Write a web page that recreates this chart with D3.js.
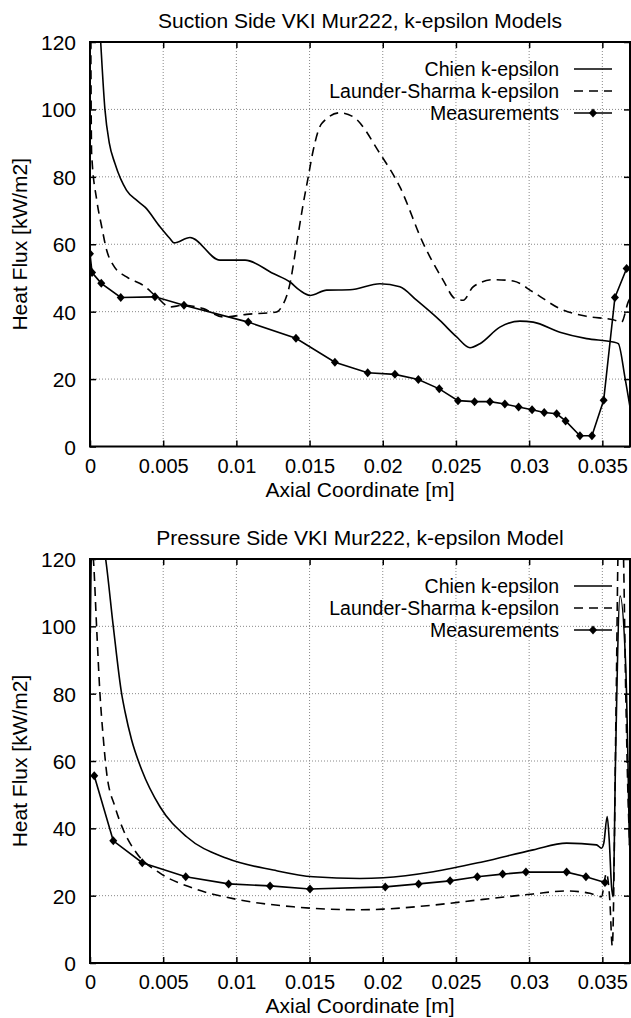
<!DOCTYPE html>
<html><head><meta charset="utf-8">
<script src="https://cdn.jsdelivr.net/npm/d3@7"></script>
<style>body{margin:0;background:#fff}svg{display:block}text{font-family:"Liberation Sans",Arial,sans-serif;fill:#000}</style>
</head><body><svg id="c" width="631" height="1018"></svg>
<script>
// ---- data ----
const xTicks = [0, 0.005, 0.01, 0.015, 0.02, 0.025, 0.03, 0.035];
const xTickLabels = ["0", "0.005", "0.01", "0.015", "0.02", "0.025", "0.03", "0.035"];
const yTicks = [0, 20, 40, 60, 80, 100, 120];
const seriesNames = ["Chien k-epsilon", "Launder-Sharma k-epsilon", "Measurements"];

// Suction side
const sucChienX = [0.0006,0.00073,0.00102,0.00132,0.0017,0.0025,0.0032,0.00376,0.00478,0.00546,0.00574,0.00683,0.00888,0.01059,0.01252,0.01366,0.01434,0.01503,0.01617,0.01776,0.01981,0.02117,0.02231,0.0239,0.02505,0.02596,0.02664,0.028,0.02937,0.03028,0.0321,0.03393,0.03574,0.03609,0.03654,0.03689];
const sucChienY = [130,120,100,90,84,76,73,71,65.2,61.7,60.4,62.0,55.3,55.3,51.3,48.8,46.3,44.8,46.4,46.5,48.3,47.4,43.4,37.4,32.5,29.3,30.5,35.4,37.2,36.9,33.9,32.0,31.0,30.5,20.6,11.7];
const sucLSX = [0.00005,0.00011,0.00046,0.0008,0.00114,0.00159,0.0025,0.00364,0.00455,0.00546,0.00637,0.00774,0.0091,0.0107,0.01275,0.01309,0.01366,0.01412,0.01457,0.01491,0.01525,0.01583,0.01708,0.01799,0.01981,0.02117,0.02277,0.02413,0.02493,0.0255,0.02618,0.02755,0.02891,0.03028,0.0321,0.03393,0.03574,0.03631,0.03677,0.03689];
const sucLSY = [125,87,73.1,65.2,58.2,53.8,50.3,47.8,44.4,41.4,41.9,40.9,38.4,39.2,39.9,41.4,48.3,60.2,72.1,80,87.9,95.8,99.0,97.8,86.9,77.0,60.2,49.3,43.9,43.4,47.4,49.5,49.1,45.8,40.9,38.6,37.6,36.9,42.9,44];
const sucMeasX = [0.0,0.00014,0.00077,0.0021,0.00444,0.00642,0.01081,0.01407,0.01673,0.01897,0.02083,0.02243,0.02386,0.02514,0.02627,0.02732,0.02834,0.02928,0.0302,0.03103,0.03188,0.03249,0.03347,0.03429,0.03509,0.03586,0.03666];
const sucMeasY = [57.2,51.6,48.4,44.2,44.4,41.9,36.9,32.1,25.0,21.9,21.4,19.9,17.1,13.6,13.3,13.3,12.6,11.7,10.9,10.1,9.7,7.6,3.2,3.2,13.7,44.2,52.8];

// Pressure side
const preChienX = [0.00002,0.00012,0.0009,0.00107,0.00159,0.00216,0.00239,0.00284,0.00353,0.00478,0.0066,0.00934,0.01252,0.01525,0.01844,0.02003,0.02345,0.02686,0.03028,0.03256,0.0346,0.03494,0.0351,0.03533,0.03547,0.03563,0.03574,0.0359,0.03621,0.0366,0.03675,0.03685];
const preChienY = [98,125,125,120,100,80,74.7,66.3,57.4,46.4,37.5,31.1,27.6,25.6,25.1,25.3,27.1,30.1,33.6,35.6,35.1,34.1,35.6,43.5,36.6,22.7,19.7,60,109,88,60,35];
const preLSX = [0.0001,0.00023,0.00046,0.00068,0.0009,0.00114,0.00171,0.00228,0.00319,0.00478,0.00706,0.01002,0.01389,0.01844,0.02003,0.02345,0.02686,0.03028,0.03256,0.03415,0.03494,0.03528,0.03551,0.03568,0.03595,0.0361,0.0364,0.0366,0.03675,0.03689];
const preLSY = [125,120,99,80,67.2,56.4,46.4,39.5,32.6,26.7,22.2,18.9,16.7,15.8,16.0,17.2,18.9,20.5,21.4,20.7,19.7,26.7,18.7,5,80,125,125,80,50,33];
const preMeasX = [0.00029,0.00159,0.00357,0.00654,0.00947,0.0123,0.01503,0.02017,0.02245,0.0246,0.02646,0.02819,0.02978,0.03256,0.03388,0.03518];
const preMeasY = [55.6,36.3,29.8,25.6,23.5,22.9,22.0,22.6,23.5,24.4,25.6,26.4,27.0,27.0,25.6,23.9];

// ---- drawing ----
const svg = d3.select("#c");
const FS = 21, TFS = 20, LFS = 19.5;
const L = 90, R = 630;
const xMax = 0.03689;
const zip = (xs, ys) => xs.map((x, i) => [x, ys[i]]);

function panel(id, top, bottom, title, chien, ls, meas) {
  const x = d3.scaleLinear().domain([0, xMax]).range([L, R]);
  const y = d3.scaleLinear().domain([0, 120]).range([bottom, top]);
  const g = svg.append("g");
  // grid
  g.append("g").selectAll("line").data(xTicks.slice(1)).join("line")
    .attr("x1", d => x(d)).attr("x2", d => x(d)).attr("y1", top).attr("y2", bottom)
    .attr("stroke", "#888").attr("stroke-width", 1).attr("stroke-dasharray", "1,2");
  g.append("g").selectAll("line").data(yTicks.slice(1, -1)).join("line")
    .attr("x1", L).attr("x2", R).attr("y1", d => y(d)).attr("y2", d => y(d))
    .attr("stroke", "#888").attr("stroke-width", 1).attr("stroke-dasharray", "1,2");
  // axes with inward ticks
  const ax = g.append("g").attr("transform", `translate(0,${bottom})`)
    .call(d3.axisBottom(x).tickValues(xTicks).tickFormat((d, i) => xTickLabels[i]).tickSizeInner(-6).tickSizeOuter(0).tickPadding(12));
  const axT = g.append("g").attr("transform", `translate(0,${top})`)
    .call(d3.axisTop(x).tickValues(xTicks).tickFormat("").tickSizeInner(-6).tickSizeOuter(0));
  const ay = g.append("g").attr("transform", `translate(${L},0)`)
    .call(d3.axisLeft(y).tickValues(yTicks).tickSizeInner(-6).tickSizeOuter(0).tickPadding(14));
  const ayR = g.append("g").attr("transform", `translate(${R},0)`)
    .call(d3.axisRight(y).tickValues(yTicks).tickFormat("").tickSizeInner(-6).tickSizeOuter(0));
  [ax, axT, ay, ayR].forEach(a => {
    a.select(".domain").remove();
    a.selectAll(".tick line").attr("stroke", "#000").attr("stroke-width", 1.5);
    a.selectAll("text").style("font-size", TFS + "px").attr("fill", "#000");
  });
  ay.selectAll("text").style("font-size", FS + "px");
  ax.selectAll("text").attr("dy", null).attr("y", 26).attr("dominant-baseline", "auto");
  ay.selectAll("text").attr("dy", "0.36em");
  // border
  g.append("rect").attr("x", L).attr("y", top).attr("width", R - L).attr("height", bottom - top)
    .attr("fill", "none").attr("stroke", "#000").attr("stroke-width", 2);
  // clip
  svg.append("clipPath").attr("id", id).append("rect")
    .attr("x", L).attr("y", top).attr("width", R - L + 1).attr("height", bottom - top);
  const pg = g.append("g").attr("clip-path", `url(#${id})`);
  const smooth = d3.line().x(d => x(d[0])).y(d => y(d[1])).curve(d3.curveMonotoneX);
  const straight = d3.line().x(d => x(d[0])).y(d => y(d[1]));
  pg.append("path").attr("d", smooth(chien)).attr("fill", "none").attr("stroke", "#000").attr("stroke-width", 1.6);
  pg.append("path").attr("d", smooth(ls)).attr("fill", "none").attr("stroke", "#000").attr("stroke-width", 1.6).attr("stroke-dasharray", "9,6");
  pg.append("path").attr("d", straight(meas)).attr("fill", "none").attr("stroke", "#000").attr("stroke-width", 1.6);
  const dia = "M0,-4.5L4,0L0,4.5L-4,0Z";
  pg.selectAll("path.m").data(meas).join("path").attr("class", "m")
    .attr("d", dia).attr("transform", d => `translate(${x(d[0])},${y(d[1])})`).attr("fill", "#000");
  // title & labels
  g.append("text").attr("x", 360).attr("y", top - 14).attr("text-anchor", "middle").style("font-size", FS + "px").text(title);
  g.append("text").attr("x", 360).attr("y", bottom + 50).attr("text-anchor", "middle").style("font-size", FS + "px").text("Axial Coordinate [m]");
  g.append("text").attr("transform", `translate(27,${(top + bottom) / 2}) rotate(-90)`).attr("text-anchor", "middle").style("font-size", FS + "px").text("Heat Flux [kW/m2]");
  // legend
  const ly0 = top + 27;
  seriesNames.forEach((n, i) => {
    const ly = ly0 + i * 22;
    g.append("text").attr("x", 559).attr("y", ly).attr("dy", "0.36em").attr("text-anchor", "end").style("font-size", LFS + "px").text(n);
    const ln = g.append("line").attr("x1", 574).attr("x2", 612).attr("y1", ly).attr("y2", ly).attr("stroke", "#000").attr("stroke-width", 1.6);
    if (i === 1) ln.attr("stroke-dasharray", "9,6");
    if (i === 2) g.append("path").attr("d", dia).attr("transform", `translate(593,${ly})`).attr("fill", "#000");
  });
}

panel("clipA", 42, 446.5, "Suction Side VKI Mur222, k-epsilon Models",
  zip(sucChienX, sucChienY), zip(sucLSX, sucLSY), zip(sucMeasX, sucMeasY));
panel("clipB", 559, 963, "Pressure Side VKI Mur222, k-epsilon Model",
  zip(preChienX, preChienY), zip(preLSX, preLSY), zip(preMeasX, preMeasY));
</script></body></html>
